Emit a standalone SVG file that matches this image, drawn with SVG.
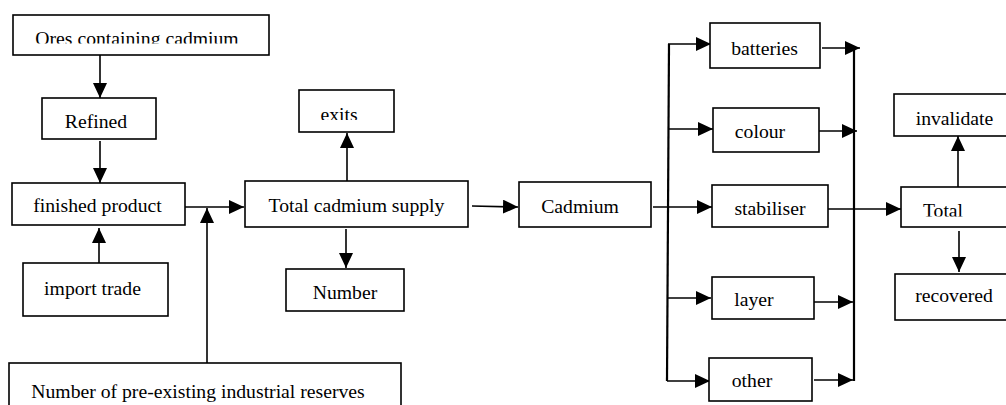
<svg xmlns="http://www.w3.org/2000/svg" width="1006" height="405" viewBox="0 0 1006 405">
  <style>
    .box { fill: #ffffff; stroke: #000000; stroke-width: 1.6; }
    .lbl { font-family: 'Liberation Serif', Tinos, 'Noto Serif', 'DejaVu Serif', serif; font-size: 19.7px; fill: #000000; text-anchor: middle; }
    .wire { fill: none; stroke: #000000; stroke-width: 1.6; }
    .bus { fill: none; stroke: #000000; stroke-width: 2.2; }
  </style>
  <defs>
    <marker id="arrow" markerUnits="userSpaceOnUse" markerWidth="16" markerHeight="16" refX="15" refY="7" orient="auto">
      <path d="M0,0 L15,7 L0,14 Z" fill="#000000"/>
    </marker>
    <!-- text frames that cut off the lower part of some labels -->
    <clipPath id="clipOres"><rect x="13" y="15" width="256" height="28.5"/></clipPath>
    <clipPath id="clipExits"><rect x="299" y="90" width="95" height="30"/></clipPath>
    <clipPath id="clipTotal"><rect x="901" y="187" width="105" height="29.5"/></clipPath>
  </defs>

  <rect x="0" y="0" width="1006" height="405" fill="#ffffff"/>

  <!-- connectors -->
  <g id="connectors">
    <path class="wire" d="M100,55 V98" marker-end="url(#arrow)"/>
    <path class="wire" d="M100,141 V183" marker-end="url(#arrow)"/>
    <path class="wire" d="M99,263 V228" marker-end="url(#arrow)"/>
    <path class="wire" d="M185,207 H244" marker-end="url(#arrow)"/>
    <path class="wire" d="M207,363 V208" marker-end="url(#arrow)"/>
    <path class="wire" d="M347,181 V133" marker-end="url(#arrow)"/>
    <path class="wire" d="M346,229 V268" marker-end="url(#arrow)"/>
    <path class="wire" d="M472,206 L518,207" marker-end="url(#arrow)"/>
    <path class="wire" d="M653,207 H712" marker-end="url(#arrow)"/>
    <!-- distribution bus -->
    <path class="bus" d="M669,44 L667,381"/>
    <path class="wire" d="M668,44 H711" marker-end="url(#arrow)"/>
    <path class="wire" d="M668,129 H713" marker-end="url(#arrow)"/>
    <path class="wire" d="M668,298 H711" marker-end="url(#arrow)"/>
    <path class="wire" d="M667,381 H710" marker-end="url(#arrow)"/>
    <!-- collection bus -->
    <path class="bus" d="M854,48 V381"/>
    <path class="wire" d="M822,48 H860" marker-end="url(#arrow)"/>
    <path class="wire" d="M819,131 H857" marker-end="url(#arrow)"/>
    <path class="wire" d="M814,302 H853" marker-end="url(#arrow)"/>
    <path class="wire" d="M814,380 H853" marker-end="url(#arrow)"/>
    <path class="wire" d="M828,209 H901" marker-end="url(#arrow)"/>
    <path class="wire" d="M958,187 V136" marker-end="url(#arrow)"/>
    <path class="wire" d="M959,231 V272" marker-end="url(#arrow)"/>
  </g>

  <!-- nodes -->
  <g id="ores">
    <rect class="box" x="13" y="15" width="256" height="40"/>
    <text class="lbl" x="137" y="45" clip-path="url(#clipOres)">Ores containing cadmium</text>
  </g>
  <g id="refined">
    <rect class="box" x="42" y="98" width="114" height="41"/>
    <text class="lbl" x="96" y="128">Refined</text>
  </g>
  <g id="finished-product">
    <rect class="box" x="12" y="183" width="173" height="42"/>
    <text class="lbl" x="97.5" y="212">finished product</text>
  </g>
  <g id="import-trade">
    <rect class="box" x="23" y="263" width="145" height="53"/>
    <text class="lbl" x="92.5" y="295">import trade</text>
  </g>
  <g id="industrial-reserves">
    <rect class="box" x="9" y="363" width="392" height="60"/>
    <text class="lbl" x="198" y="398">Number of pre-existing industrial reserves</text>
  </g>
  <g id="exits">
    <rect class="box" x="299" y="90" width="95" height="42"/>
    <text class="lbl" x="339" y="121" clip-path="url(#clipExits)">exits</text>
  </g>
  <g id="total-supply">
    <rect class="box" x="245" y="181" width="223" height="46"/>
    <text class="lbl" x="356.5" y="212">Total cadmium supply</text>
  </g>
  <g id="number">
    <rect class="box" x="286" y="269" width="118" height="42"/>
    <text class="lbl" x="345" y="299">Number</text>
  </g>
  <g id="cadmium">
    <rect class="box" x="519" y="182" width="132" height="45"/>
    <text class="lbl" x="580" y="213">Cadmium</text>
  </g>
  <g id="batteries">
    <rect class="box" x="710" y="23" width="110" height="45"/>
    <text class="lbl" x="764.5" y="55">batteries</text>
  </g>
  <g id="colour">
    <rect class="box" x="713" y="108" width="106" height="44"/>
    <text class="lbl" x="760" y="138">colour</text>
  </g>
  <g id="stabiliser">
    <rect class="box" x="712" y="185" width="116" height="42"/>
    <text class="lbl" x="770" y="215">stabiliser</text>
  </g>
  <g id="layer">
    <rect class="box" x="712" y="277" width="102" height="42"/>
    <text class="lbl" x="754" y="306">layer</text>
  </g>
  <g id="other">
    <rect class="box" x="709" y="358" width="103" height="43"/>
    <text class="lbl" x="752" y="387">other</text>
  </g>
  <g id="invalidate">
    <rect class="box" x="894" y="94" width="120" height="42"/>
    <text class="lbl" x="954.5" y="125">invalidate</text>
  </g>
  <g id="total">
    <rect class="box" x="901" y="187" width="120" height="40"/>
    <text class="lbl" x="943" y="217" clip-path="url(#clipTotal)">Total</text>
  </g>
  <g id="recovered">
    <rect class="box" x="895" y="274" width="120" height="46"/>
    <text class="lbl" x="954" y="302">recovered</text>
  </g>
</svg>
